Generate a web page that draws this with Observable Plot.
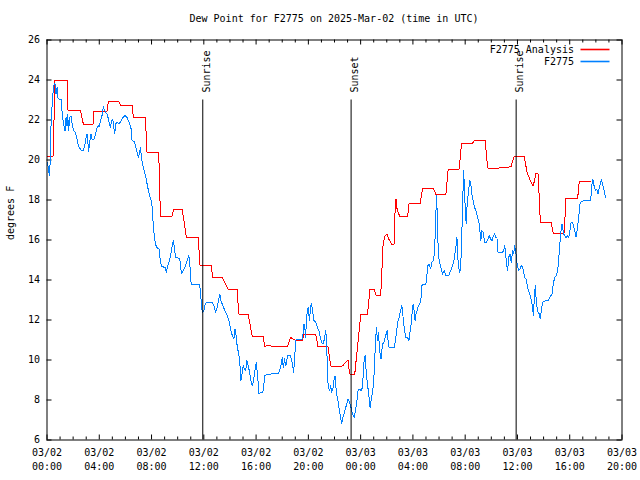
<!DOCTYPE html>
<html><head><meta charset="utf-8">
<script src="https://cdn.jsdelivr.net/npm/d3@7"></script>
<script src="https://cdn.jsdelivr.net/npm/@observablehq/plot@0.6"></script>
<style>
body{margin:0;background:#fff;font-family:"DejaVu Sans Mono",monospace;}
#wrap{position:relative;width:640px;height:480px;overflow:hidden;}
#title{height:30px;box-sizing:border-box;padding-top:13px;padding-left:47px;padding-right:19px;text-align:center;font-size:10px;line-height:12px;color:#000;white-space:nowrap;}
</style></head><body>
<div id="wrap"><div id="title"></div><div id="chart"></div></div>
<script>
const chartTitle = "Dew Point for F2775 on 2025-Mar-02 (time in UTC)";
const yLabel = "degrees F";
const seriesNames = ["F2775 Analysis", "F2775"];
const seriesColors = ["#ff0000", "#0080ff"];
const xTickHours = [0,4,8,12,16,20,24,28,32,36,40,44];
const xTickDates = ["03/02","03/02","03/02","03/02","03/02","03/02","03/03","03/03","03/03","03/03","03/03","03/03"];
const xTickTimes = ["00:00","04:00","08:00","12:00","16:00","20:00","00:00","04:00","08:00","12:00","16:00","20:00"];
const yTicks = [6,8,10,12,14,16,18,20,22,24,26];
const eventNames = ["Sunrise","Sunset","Sunrise"];
const eventHours = [11.92, 23.27, 35.9];

// [hours since 03/02 00:00 UTC, dew point °F]
const analysisSeries = [
[0,20.2],[0.48,20.2],[0.6,24.0],[1.53,24.0],[1.6,22.5],[2.55,22.5],[2.78,21.8],[3.52,21.8],[3.6,22.45],[4.6,22.45],[4.7,22.95],[5.49,22.95],[5.62,22.75],[6.51,22.75],[6.61,22.15],[7.53,22.15],[7.65,20.4],[8.55,20.4],[8.68,17.2],[9.58,17.2],[9.68,17.55],[10.34,17.55],[10.67,16.13],[11.57,16.13],[11.71,14.75],[12.57,14.75],[12.67,14.13],[13.41,14.13],[13.84,13.55],[14.56,13.55],[14.66,12.3],[15.39,12.3],[15.71,11.16],[16.55,11.16],[16.65,10.67],[16.96,10.75],[17.26,10.67],[18.39,10.67],[18.64,11.13],[19.03,10.97],[19.54,10.97],[19.66,11.3],[20.56,11.3],[20.74,10.67],[21.5,10.67],[21.71,9.7],[22.61,9.7],[23.03,10.0],[23.16,9.3],[23.55,9.3],[24.01,12.27],[24.52,12.27],[24.72,13.55],[25.04,13.55],[25.16,13.25],[25.54,13.25],[25.72,15.8],[25.85,16.2],[26.0,16.3],[26.15,16.05],[26.36,15.8],[26.56,15.8],[26.64,17.55],[26.71,18.05],[26.8,17.47],[27.02,17.16],[27.59,17.16],[27.71,17.83],[28.55,17.83],[28.74,18.58],[29.58,18.58],[29.76,18.26],[30.52,18.26],[30.7,19.55],[31.54,19.55],[31.72,20.85],[32.57,20.85],[32.7,20.96],[33.53,20.96],[33.72,19.6],[34.6,19.6],[35.5,19.66],[35.75,20.2],[36.52,20.2],[36.73,19.38],[37.04,18.88],[37.21,18.7],[37.42,19.35],[37.57,19.35],[37.67,18.13],[37.75,16.88],[38.57,16.88],[38.74,16.35],[39.58,16.35],[39.71,18.1],[40.61,18.1],[40.73,18.95],[41.63,18.95]
];

const observedSeries = [
[0.00,19.88],[0.10,19.63],[0.18,19.2],[0.25,19.97],[0.31,21.8],[0.41,22.97],[0.51,23.72],[0.61,23.83],[0.69,23.3],[0.77,23.63],[0.81,23.13],[0.94,23.05],[1.07,23.05],[1.12,22.63],[1.20,22.13],[1.27,21.8],[1.38,21.47],[1.46,22.13],[1.53,21.7],[1.58,22.3],[1.66,21.47],[1.73,22.13],[1.84,22.2],[1.92,21.8],[2.04,21.47],[2.15,21.38],[2.27,21.13],[2.34,20.88],[2.45,20.63],[2.61,20.5],[2.80,20.5],[2.91,20.8],[2.99,21.13],[3.07,21.3],[3.14,20.8],[3.19,20.43],[3.26,20.88],[3.37,21.3],[3.45,21.05],[3.62,21.05],[3.75,21.38],[3.83,21.63],[3.93,21.72],[3.98,21.63],[4.14,22.05],[4.24,22.3],[4.31,22.67],[4.39,22.5],[4.49,22.38],[4.60,22.3],[4.70,22.05],[4.77,21.8],[4.85,21.63],[4.95,21.97],[5.03,22.05],[5.10,21.72],[5.18,21.3],[5.26,21.8],[5.36,21.88],[5.52,21.8],[5.67,21.97],[5.82,22.13],[5.98,22.22],[6.13,22.13],[6.28,21.88],[6.44,21.55],[6.51,20.97],[6.69,20.93],[6.79,20.63],[6.90,20.38],[7.00,20.1],[7.10,20.47],[7.15,20.6],[7.25,20.05],[7.36,19.63],[7.51,19.3],[7.61,18.97],[7.71,18.63],[7.86,18.2],[8.02,17.88],[8.09,17.13],[8.17,16.47],[8.28,15.88],[8.38,15.63],[8.58,15.55],[8.68,14.88],[8.78,14.67],[9.04,14.63],[9.14,14.38],[9.24,14.72],[9.37,14.97],[9.50,15.38],[9.66,15.97],[9.75,15.63],[9.83,15.13],[10.01,15.1],[10.16,15.1],[10.21,14.63],[10.31,14.3],[10.42,14.47],[10.60,14.72],[10.73,14.97],[10.85,15.22],[10.93,14.8],[11.03,13.8],[11.67,13.8],[11.75,13.38],[11.82,12.72],[11.88,12.38],[12.00,12.47],[12.08,12.72],[12.18,12.88],[12.64,12.88],[12.77,12.72],[12.90,12.38],[13.03,12.63],[13.15,13.05],[13.23,13.27],[13.30,12.97],[13.46,12.72],[13.61,12.47],[13.79,12.22],[13.92,11.97],[14.05,11.55],[14.18,11.22],[14.30,11.05],[14.38,11.55],[14.48,11.22],[14.56,10.63],[14.68,10.3],[14.76,9.8],[14.84,8.97],[14.94,9.38],[15.02,9.72],[15.10,9.55],[15.20,9.47],[15.30,9.97],[15.40,9.72],[15.50,9.38],[15.60,8.97],[15.71,8.72],[15.81,8.97],[15.91,9.47],[16.02,9.88],[16.09,9.38],[16.17,8.8],[16.21,8.3],[16.37,8.38],[16.52,8.38],[16.63,8.97],[16.67,9.22],[16.86,9.27],[17.11,9.3],[17.49,9.33],[17.70,9.33],[17.80,9.47],[17.90,9.72],[18.01,10.13],[18.08,9.63],[18.18,10.05],[18.26,9.72],[18.34,9.88],[18.39,10.22],[18.64,10.22],[18.72,9.97],[18.80,9.72],[18.87,9.38],[18.93,9.88],[19.03,10.97],[19.16,11.05],[19.41,11.0],[19.54,11.05],[19.62,11.47],[19.66,11.8],[19.74,11.55],[19.79,11.13],[19.85,11.97],[19.92,12.47],[20.00,12.63],[20.08,11.97],[20.18,12.72],[20.25,12.8],[20.31,12.47],[20.43,11.97],[20.56,11.88],[20.69,11.63],[20.81,11.47],[20.92,11.13],[21.02,10.88],[21.12,10.8],[21.23,11.05],[21.33,11.47],[21.40,10.97],[21.46,9.22],[21.53,8.63],[21.63,8.47],[21.71,8.72],[21.79,8.38],[21.89,8.63],[21.96,8.97],[22.04,9.22],[22.14,8.38],[22.24,8.05],[22.34,7.63],[22.48,7.05],[22.55,6.8],[22.65,7.13],[22.80,7.47],[22.93,7.8],[23.03,8.05],[23.16,7.88],[23.26,7.63],[23.37,7.3],[23.52,7.13],[23.62,7.55],[23.72,7.97],[23.80,8.47],[23.93,8.55],[24.03,8.47],[24.14,8.63],[24.24,9.8],[24.34,10.22],[24.41,9.55],[24.52,8.8],[24.62,8.3],[24.72,7.63],[24.83,8.13],[24.93,8.47],[25.03,9.3],[25.13,10.8],[25.21,11.63],[25.29,10.97],[25.36,11.38],[25.46,10.47],[25.56,10.05],[25.67,10.8],[25.79,10.88],[25.92,11.22],[26.02,11.47],[26.10,10.97],[26.18,10.63],[26.56,10.63],[26.64,10.88],[26.74,11.38],[26.84,11.88],[26.94,12.13],[27.05,12.47],[27.15,12.72],[27.25,12.13],[27.36,11.47],[27.46,11.13],[27.59,11.13],[27.69,10.97],[27.76,11.3],[27.86,11.8],[27.94,12.38],[28.02,12.8],[28.09,12.47],[28.17,11.97],[28.24,12.3],[28.32,12.47],[28.43,12.72],[28.53,12.8],[28.63,13.13],[28.68,13.72],[28.78,13.77],[28.99,13.77],[29.07,14.22],[29.14,14.72],[29.24,14.8],[29.35,14.55],[29.45,14.88],[29.55,14.97],[29.66,15.38],[29.73,16.8],[29.81,18.22],[29.85,17.47],[29.93,15.63],[30.01,14.97],[30.14,14.63],[30.27,14.3],[30.39,14.47],[30.52,14.22],[30.73,14.22],[30.90,14.47],[31.03,14.72],[31.16,15.05],[31.29,15.63],[31.37,16.13],[31.42,15.3],[31.49,14.63],[31.59,14.38],[31.67,14.88],[31.75,16.47],[31.82,18.13],[31.88,19.47],[31.95,18.47],[32.00,17.63],[32.08,16.8],[32.15,17.8],[32.26,18.47],[32.36,18.97],[32.44,18.72],[32.51,18.3],[32.61,17.97],[32.72,17.63],[32.82,17.47],[32.95,17.13],[33.07,16.8],[33.20,15.97],[33.28,16.47],[33.38,16.38],[33.49,15.88],[33.64,15.88],[33.74,16.05],[33.84,16.22],[33.95,16.05],[34.05,15.97],[34.15,16.22],[34.25,16.3],[34.35,16.13],[34.43,16.13],[34.51,15.38],[34.87,15.38],[34.97,15.55],[35.02,15.72],[35.07,15.47],[35.17,14.8],[35.25,14.47],[35.33,15.13],[35.43,15.3],[35.53,14.88],[35.63,15.47],[35.71,15.3],[35.79,15.72],[35.83,15.55],[35.89,15.3],[35.94,14.97],[36.02,14.63],[36.09,14.47],[36.19,14.55],[36.29,14.72],[36.40,14.63],[36.48,14.38],[36.55,14.13],[36.65,14.05],[36.73,13.8],[36.80,13.55],[36.90,13.38],[36.98,13.22],[37.06,12.97],[37.16,12.63],[37.21,12.22],[37.29,13.05],[37.36,13.72],[37.44,12.97],[37.52,12.55],[37.59,12.38],[37.67,12.3],[37.75,12.05],[37.82,12.47],[37.93,12.88],[38.18,12.97],[38.39,13.0],[38.49,13.13],[38.64,13.3],[38.74,13.8],[38.85,14.13],[39.00,14.22],[39.08,14.55],[39.16,14.97],[39.20,15.55],[39.28,16.05],[39.36,16.63],[39.41,16.8],[39.46,16.63],[39.51,16.38],[39.59,16.22],[39.72,16.13],[39.85,16.22],[39.92,16.13],[40.02,16.47],[40.10,16.88],[40.23,16.88],[40.31,16.63],[40.38,16.47],[40.48,16.13],[40.56,16.47],[40.64,16.88],[40.71,17.3],[40.79,17.8],[40.89,17.93],[41.12,17.97],[41.61,17.97],[41.66,18.63],[41.76,19.05],[41.86,18.72],[41.97,18.47],[42.07,18.55],[42.17,18.3],[42.27,18.63],[42.38,18.88],[42.42,19.05],[42.53,18.72],[42.63,18.47],[42.73,18.13]
];

document.getElementById("title").textContent = chartTitle;

const W = 640, H = 450, mL = 46.5, mR = 18.5, mT = 9.5, mB = 40.5;
const pw = W - mL - mR, ph = H - mT - mB;
const ana = analysisSeries.map(([h, v]) => ({h, v}));
const obs = observedSeries.map(([h, v]) => ({h, v}));
const events = eventNames.map((name, i) => ({name, h: eventHours[i]}));
const hourTicks = d3.range(0, 45);
const minorTicks = hourTicks.filter(h => h % 4 !== 0);

// legend drawn inside the plot's SVG, anchored to the frame's top-right corner
function legendMark(index, scales, values, dimensions) {
  const {width, marginRight, marginTop} = dimensions;
  const right = width - marginRight;
  const g = d3.create("svg:g");
  seriesNames.forEach((name, i) => {
    const cy = marginTop + 10 + i * 12;
    g.append("text").attr("x", right - 47.5).attr("y", cy).attr("dy", "0.32em")
      .attr("text-anchor", "end").attr("font-family", "DejaVu Sans Mono, monospace")
      .attr("font-size", 10).attr("fill", "black").text(name);
    g.append("line").attr("x1", right - 41).attr("x2", right - 12).attr("y1", cy).attr("y2", cy)
      .attr("stroke", seriesColors[i]).attr("stroke-width", 1.6);
  });
  return g.node();
}

const plot = Plot.plot({
  width: W, height: H,
  marginLeft: mL, marginRight: mR, marginTop: mT, marginBottom: mB,
  style: {fontFamily: "DejaVu Sans Mono, monospace", fontSize: "10px", background: "white", color: "black"},
  x: {domain: [0, 44]},
  y: {domain: [6, 26]},
  marks: [
    Plot.ruleX(minorTicks, {x: d => d, insetTop: ph - 3, stroke: "black"}),
    Plot.ruleX(minorTicks, {x: d => d, insetBottom: ph - 3, stroke: "black"}),
    Plot.ruleX(xTickHours, {x: d => d, insetTop: ph - 5, stroke: "black"}),
    Plot.ruleX(xTickHours, {x: d => d, insetBottom: ph - 5, stroke: "black"}),
    Plot.ruleY(yTicks, {y: d => d, insetRight: pw - 5, stroke: "black"}),
    Plot.ruleY(yTicks, {y: d => d, insetLeft: pw - 5, stroke: "black"}),
    Plot.axisX({ticks: xTickHours, tickSize: 0, tickPadding: 9, tickFormat: d => xTickDates[xTickHours.indexOf(d)], label: null, fill: "black"}),
    Plot.axisX({ticks: xTickHours, tickSize: 0, tickPadding: 23, tickFormat: d => xTickTimes[xTickHours.indexOf(d)], label: null, fill: "black"}),
    Plot.axisY({ticks: yTicks, tickSize: 0, tickPadding: 7, label: null, fill: "black"}),
    Plot.text([yLabel], {frameAnchor: "left", dx: -36, rotate: -90, text: d => d, fill: "black"}),
    Plot.line(ana, {x: "h", y: "v", stroke: seriesColors[0], strokeWidth: 1, shapeRendering: "crispEdges"}),
    Plot.line(obs, {x: "h", y: "v", stroke: seriesColors[1], strokeWidth: 1, shapeRendering: "crispEdges"}),
    Plot.ruleX(events, {x: "h", insetTop: 60, stroke: "black"}),
    Plot.text(events, {x: "h", text: "name", frameAnchor: "top", dy: 52.5, rotate: -90, textAnchor: "start", fill: "black"}),
    Plot.frame({stroke: "black"}),
    legendMark
  ]
});
document.getElementById("chart").appendChild(plot);
</script>
</body></html>
